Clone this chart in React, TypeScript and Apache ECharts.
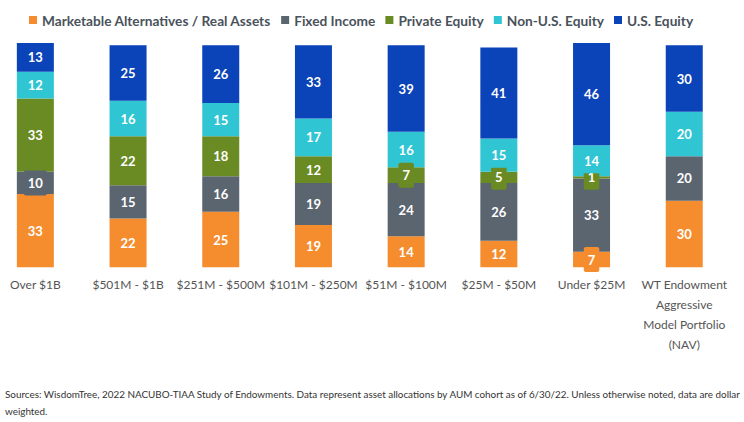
import React, { useEffect, useRef } from "react";
import * as echarts from "echarts";

const categories = [
  "Over $1B",
  "$501M - $1B",
  "$251M - $500M",
  "$101M - $250M",
  "$51M - $100M",
  "$25M - $50M",
  "Under $25M",
  "WT Endowment\nAggressive\nModel Portfolio\n(NAV)",
];

const marketableAlternatives = [33, 22, 25, 19, 14, 12, 7, 30];
const fixedIncome = [10, 15, 16, 19, 24, 26, 33, 20];
const privateEquity = [33, 22, 18, 12, 7, 5, 1, 0];
const nonUSEquity = [12, 16, 15, 17, 16, 15, 14, 20];
const usEquity = [13, 25, 26, 33, 39, 41, 46, 30];

const seriesDefs = [
  { name: "Marketable Alternatives / Real Assets", data: marketableAlternatives, color: "#F58D2F" },
  { name: "Fixed Income", data: fixedIncome, color: "#5B6570" },
  { name: "Private Equity", data: privateEquity, color: "#6A8B24" },
  { name: "Non-U.S. Equity", data: nonUSEquity, color: "#30C5D3" },
  { name: "U.S. Equity", data: usEquity, color: "#0B43B9" },
];

const sourceNote =
  "Sources: WisdomTree, 2022 NACUBO-TIAA Study of Endowments. Data represent asset allocations by AUM cohort as of 6/30/22. Unless otherwise noted, data are dollar\nweighted.";

// The chart canvas is shifted left so the first category band can start off-page.
const OFFSET = 11;

export default function App() {
  const ref = useRef<HTMLDivElement>(null);

  useEffect(() => {
    if (!ref.current) return;
    const chart = echarts.init(ref.current, null, { renderer: "svg" });
    chart.setOption({
      animation: false,
      backgroundColor: "#ffffff",
      textStyle: { fontFamily: "Lato" },
      legend: {
        top: 8,
        left: 24 + OFFSET,
        itemWidth: 8,
        itemHeight: 8,
        itemGap: 10,
        icon: "rect",
        textStyle: { color: "#4A525B", fontSize: 13.7, fontWeight: "bold", fontFamily: "Lato" },
        data: seriesDefs.map((s) => s.name),
      },
      grid: { left: 0, right: 13.4, top: 43, bottom: 154.7, containLabel: false },
      xAxis: {
        type: "category",
        data: categories,
        axisLine: { show: false },
        axisTick: { show: false },
        axisLabel: {
          interval: 0,
          margin: 7,
          color: "#555555",
          fontSize: 12,
          lineHeight: 20,
          fontFamily: "Lato",
        },
      },
      yAxis: { type: "value", min: 0, max: 101, show: false, splitLine: { show: false } },
      series: seriesDefs.map((s) => ({
        name: s.name,
        type: "bar",
        stack: "total",
        barWidth: 37,
        clip: false,
        itemStyle: { color: s.color },
        label: {
          show: true,
          position: "inside",
          color: "#ffffff",
          fontWeight: "bold",
          fontSize: 13,
          fontFamily: "Lato",
          backgroundColor: s.color,
          padding: [6, 4],
          borderRadius: 2,
        },
        data: s.data.map((v) => ({ value: v, label: { show: v > 0 } })),
      })),
      graphic: [
        {
          type: "text",
          left: 5 + OFFSET,
          top: 385,
          style: {
            text: sourceNote,
            fill: "#333333",
            fontSize: 9.9,
            lineHeight: 17,
            fontFamily: "Lato",
          },
        },
      ],
    });
    return () => chart.dispose();
  }, []);

  return (
    <div
      ref={ref}
      style={{ width: 744 + OFFSET, height: 422, position: "absolute", left: -OFFSET, top: 0 }}
    />
  );
}
